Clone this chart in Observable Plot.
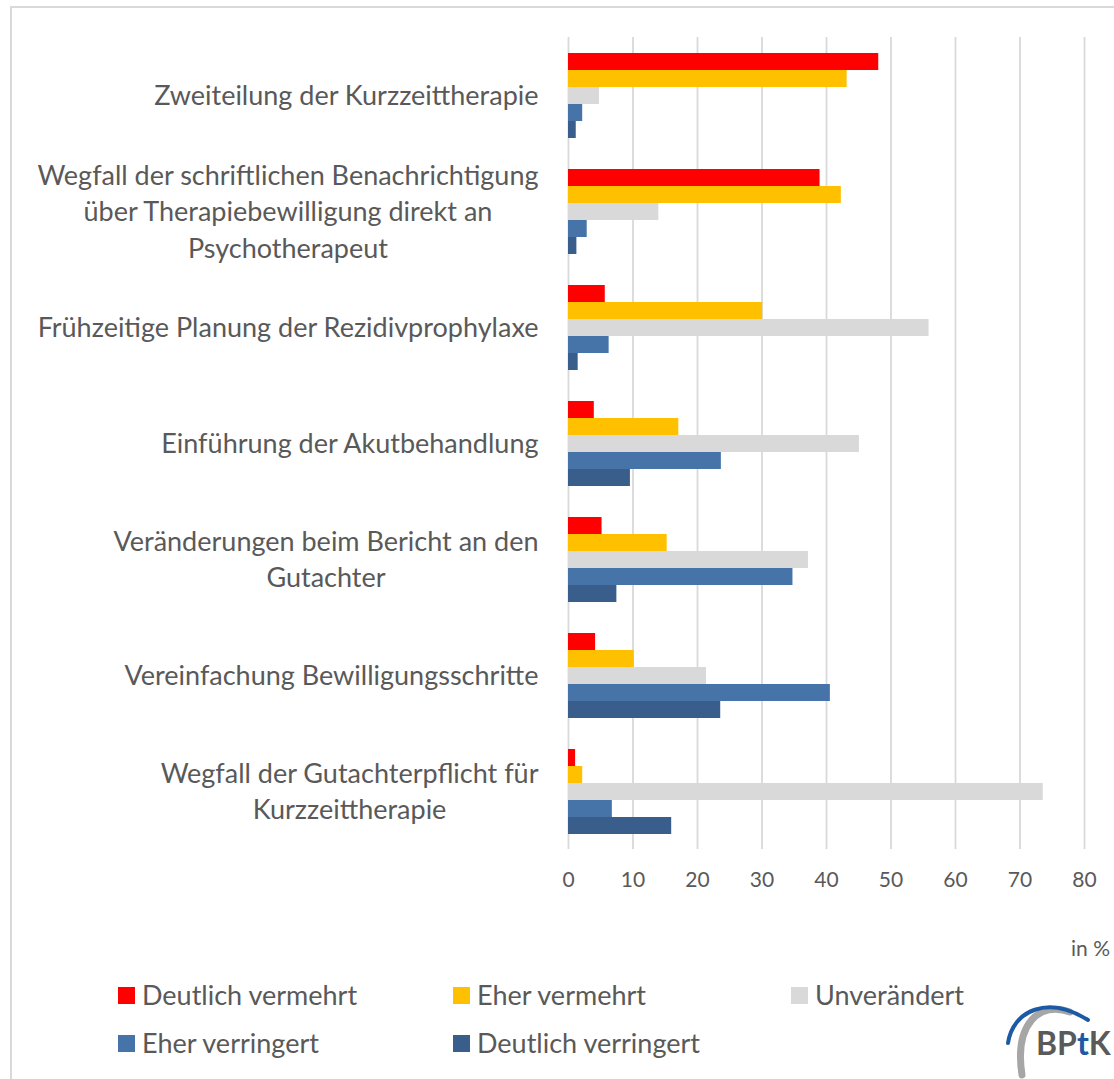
<!DOCTYPE html>
<html><head><meta charset="utf-8">
<script src="https://cdn.jsdelivr.net/npm/d3@7"></script>
<script src="https://cdn.jsdelivr.net/npm/@observablehq/plot@0.6"></script>
<style>
body{margin:0;background:#fff;font-family:Lato,"Open Sans",sans-serif;color:#595959}
#wrap{position:relative;width:1114px;height:1079px;overflow:hidden;background:#fff}
#frame{position:absolute;left:10px;top:6px;width:1300px;height:1300px;border-left:2px solid #d9d9d9;border-top:2px solid #d9d9d9}
#chart{position:absolute;left:0;top:0}
.lg{position:absolute;font-size:27px;line-height:32px;white-space:nowrap;display:flex;align-items:center}
.lg span.sw{display:inline-block;width:17px;height:17px;margin-right:7px}
#unit{position:absolute;left:1071px;top:935px;font-size:21px;white-space:nowrap}
#logo{position:absolute;left:960px;top:995px}
</style></head><body>
<div id="wrap"><div id="frame"></div><div id="chart"></div><div id="unit">in %</div><div id="legend"></div>
<svg id="logo" width="154" height="84" viewBox="0 0 154 84">
<path d="M110,17 C80,6 54,28 62,80" fill="none" stroke="#a6a6a6" stroke-width="7" stroke-linecap="round"/>
<path d="M48,48 C53,15 88,0 128,25" fill="none" stroke="#1d5aa6" stroke-width="4" stroke-linecap="round"/>
<text x="76" y="60" font-family="Lato, sans-serif" font-weight="bold" font-size="32"><tspan fill="#5a5a5a">BP</tspan><tspan fill="#1d5aa6">t</tspan><tspan fill="#5a5a5a">K</tspan></text>
</svg>
</div>
<script>
const categories = [
  "Zweiteilung der Kurzzeittherapie",
  "Wegfall der schriftlichen Benachrichtigung über Therapiebewilligung direkt an Psychotherapeut",
  "Frühzeitige Planung der Rezidivprophylaxe",
  "Einführung der Akutbehandlung",
  "Veränderungen beim Bericht an den Gutachter",
  "Vereinfachung Bewilligungsschritte",
  "Wegfall der Gutachterpflicht für Kurzzeittherapie"
];
const categoryLabels = [
  "Zweiteilung der Kurzzeittherapie",
  "Wegfall der schriftlichen Benachrichtigung\nüber Therapiebewilligung direkt an\nPsychotherapeut",
  "Frühzeitige Planung der Rezidivprophylaxe",
  "Einführung der Akutbehandlung",
  "Veränderungen beim Bericht an den\nGutachter",
  "Vereinfachung Bewilligungsschritte",
  "Wegfall der Gutachterpflicht für\nKurzzeittherapie"
];
const seriesNames = ["Deutlich vermehrt", "Eher vermehrt", "Unverändert", "Eher verringert", "Deutlich verringert"];
const seriesColors = ["#ff0000", "#ffc000", "#d9d9d9", "#4674a8", "#3a5e8c"];
const deutlichVermehrt   = [48.1, 39.0, 5.7, 4.0, 5.2, 4.2, 1.1];
const eherVermehrt       = [43.2, 42.3, 30.1, 17.1, 15.3, 10.2, 2.2];
const unveraendert       = [4.8, 14.0, 55.9, 45.1, 37.2, 21.4, 73.6];
const eherVerringert     = [2.2, 2.9, 6.3, 23.7, 34.8, 40.6, 6.8];
const deutlichVerringert = [1.2, 1.3, 1.5, 9.6, 7.5, 23.6, 16.0];
const xTicks = [0, 10, 20, 30, 40, 50, 60, 70, 80];

const seriesValues = [deutlichVermehrt, eherVermehrt, unveraendert, eherVerringert, deutlichVerringert];
const data = [];
categories.forEach((c, i) => seriesNames.forEach((s, j) => data.push({category: c, series: s, value: seriesValues[j][i]})));
const labelOf = new Map(categories.map((c, i) => [c, categoryLabels[i]]));

const chart = Plot.plot({
  width: 1114, height: 900,
  marginLeft: 568, marginRight: 30, marginTop: 35, marginBottom: 49,
  style: {fontFamily: "Lato, 'Open Sans', sans-serif", color: "#595959", background: "transparent", overflow: "visible"},
  x: {domain: [0, 80], ticks: xTicks, axis: null},
  y: {domain: seriesNames, padding: 0, axis: null},
  fy: {domain: categories, paddingInner: 0.26, paddingOuter: 0.13, axis: null},
  color: {domain: seriesNames, range: seriesColors},
  marks: [
    Plot.ruleX(xTicks, {stroke: "#d9d9d9", strokeWidth: 1.8, insetTop: -15, insetBottom: -15}),
    Plot.barX(data, {x: "value", y: "series", fy: "category", fill: "series"}),
    Plot.axisX({ticks: xTicks, tickSize: 0, tickPadding: 38, fontSize: 21, label: null}),
    Plot.axisFy({anchor: "left", tickSize: 0, tickPadding: 30, fontSize: 27, label: null, tickFormat: d => labelOf.get(d), lineHeight: 1.35, dy: -2})
  ]
});
document.getElementById("chart").appendChild(chart);

// center the lines of each multi-line label within its right-aligned block
chart.querySelectorAll("text").forEach(t => {
  const spans = t.querySelectorAll("tspan");
  if (spans.length > 1) {
    let w = 0;
    spans.forEach(s => { w = Math.max(w, s.getComputedTextLength()); });
    t.setAttribute("text-anchor", "middle");
    spans.forEach(s => s.setAttribute("x", -w / 2));
  }
});

const legendItems = [
  {name: seriesNames[0], color: seriesColors[0], left: 118, top: 979},
  {name: seriesNames[1], color: seriesColors[1], left: 453, top: 979},
  {name: seriesNames[2], color: seriesColors[2], left: 791, top: 979},
  {name: seriesNames[3], color: seriesColors[3], left: 118, top: 1027},
  {name: seriesNames[4], color: seriesColors[4], left: 453, top: 1027}
];
const lg = document.getElementById("legend");
legendItems.forEach(it => {
  const d = document.createElement("div");
  d.className = "lg";
  d.style.left = it.left + "px";
  d.style.top = it.top + "px";
  d.innerHTML = `<span class="sw" style="background:${it.color}"></span><span>${it.name}</span>`;
  lg.appendChild(d);
});
</script>
</body></html>
